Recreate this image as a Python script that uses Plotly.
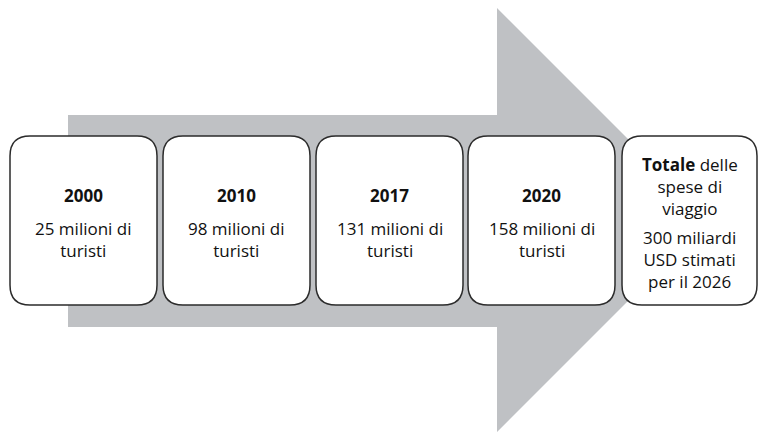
import plotly.graph_objects as go

# ---- data ----
years = ["2000", "2010", "2017", "2020"]
tourists_millions = [25, 98, 131, 158]
total_spend_billion_usd = 300
forecast_year = 2026

# ---- layout constants ----
W, H = 760, 433
FONT = "Open Sans"
FS = 17
box_x0 = [10, 163, 316, 468, 622]
box_w = [147, 147, 147, 147, 135]
box_y0, box_y1 = 136, 305
radius = 20
arrow = dict(shaft_x=68, shaft_top=115, shaft_bot=327, head_x=497, head_top=8, head_bot=432)


def rounded_rect(x0, y0, x1, y1, r):
    return (f"M {x0+r},{y0} L {x1-r},{y0} Q {x1},{y0} {x1},{y0+r} "
            f"L {x1},{y1-r} Q {x1},{y1} {x1-r},{y1} L {x0+r},{y1} "
            f"Q {x0},{y1} {x0},{y1-r} L {x0},{y0+r} Q {x0},{y0} {x0+r},{y0} Z")


fig = go.Figure()
fig.add_trace(go.Scatter(x=[0, W], y=[0, H], mode="markers", marker=dict(opacity=0), hoverinfo="skip", showlegend=False))

shapes = []
a = arrow
tip_y = (a["head_top"] + a["head_bot"]) / 2
tip_x = a["head_x"] + (a["head_bot"] - a["head_top"]) / 2
arrow_path = (f"M {a['shaft_x']},{a['shaft_top']} L {a['head_x']},{a['shaft_top']} L {a['head_x']},{a['head_top']} "
              f"L {tip_x},{tip_y} L {a['head_x']},{a['head_bot']} L {a['head_x']},{a['shaft_bot']} "
              f"L {a['shaft_x']},{a['shaft_bot']} Z")
shapes.append(dict(type="path", path=arrow_path, xref="x", yref="y", fillcolor="#BFC1C4", line=dict(width=0), layer="below"))

for x0, w in zip(box_x0, box_w):
    shapes.append(dict(type="path", path=rounded_rect(x0, box_y0, x0 + w, box_y1, radius), xref="x", yref="y",
                       fillcolor="white", line=dict(color="#2b2b2b", width=1.5), layer="below"))

annotations = []
txt_color = "#111111"
for i, (yr, t) in enumerate(zip(years, tourists_millions)):
    cx = box_x0[i] + box_w[i] / 2
    annotations.append(dict(x=cx, y=195, xref="x", yref="y", text=f"<b>{yr}</b>", showarrow=False,
                            font=dict(family=FONT, size=FS, color=txt_color), xanchor="center", yanchor="middle"))
    annotations.append(dict(x=cx, y=239, xref="x", yref="y", text=f"{t} milioni di<br>turisti", showarrow=False,
                            font=dict(family=FONT, size=FS, color=txt_color), xanchor="center", yanchor="middle"))

cx = box_x0[4] + box_w[4] / 2
annotations.append(dict(x=cx, y=186, xref="x", yref="y", text="<b>Totale</b> delle<br>spese di<br>viaggio",
                        showarrow=False, font=dict(family=FONT, size=FS, color=txt_color), xanchor="center", yanchor="middle"))
annotations.append(dict(x=cx, y=259, xref="x", yref="y",
                        text=f"{total_spend_billion_usd} miliardi<br>USD stimati<br>per il {forecast_year}",
                        showarrow=False, font=dict(family=FONT, size=FS, color=txt_color), xanchor="center", yanchor="middle"))

fig.update_layout(
    width=W, height=H, margin=dict(l=0, r=0, t=0, b=0),
    paper_bgcolor="white", plot_bgcolor="white",
    xaxis=dict(range=[0, W], visible=False, fixedrange=True),
    yaxis=dict(range=[H, 0], visible=False, fixedrange=True),
    shapes=shapes, annotations=annotations, showlegend=False,
)
fig.write_html("out.html", config={"displayModeBar": False},
               post_script="document.body.style.margin='0';document.body.style.padding='0';")
